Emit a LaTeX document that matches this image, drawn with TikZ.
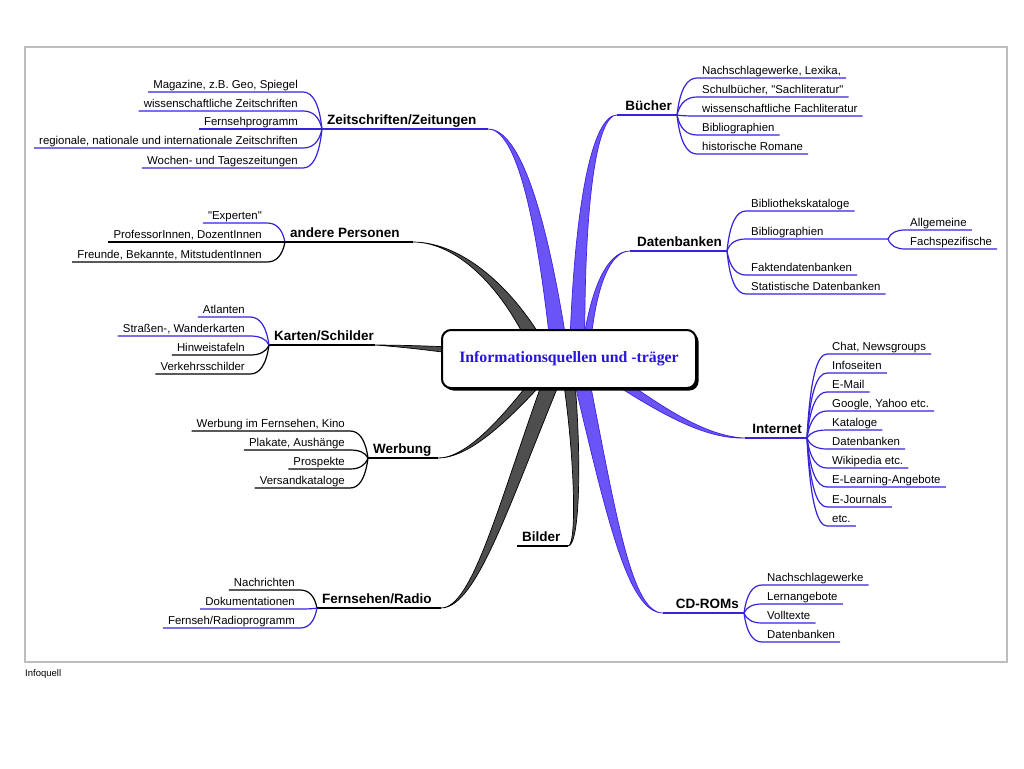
\documentclass[tikz,border=0pt]{standalone}
\usepackage{fontspec}
\setmainfont{Liberation Sans}[Ligatures=TeXOff]
\newfontfamily\serifbold{Liberation Serif}
\usetikzlibrary{calc,shadows}
\definecolor{mmblue}{RGB}{92,66,245}
\definecolor{mmedge}{RGB}{60,35,225}
\definecolor{mmline}{RGB}{55,35,220}
\definecolor{mmgray}{RGB}{78,78,78}
\definecolor{mmtext}{RGB}{40,20,225}
\definecolor{mmframe}{RGB}{190,190,190}
\newcommand{\mmband}[6]{%
  \filldraw[#1] ($(#2)+(#6)$) .. controls ($(#3)+0.6*(#6)$) and ($(#4)+0.25*(#6)$) .. (#5)
    .. controls ($(#4)-0.25*(#6)$) and ($(#3)-0.6*(#6)$) .. ($(#2)-(#6)$) -- cycle;}
\begin{document}
\begin{tikzpicture}[x=1pt,y=-1pt,
  leaf/.style={font=\fontsize{11.4}{13}\selectfont, inner xsep=5pt, inner ysep=1pt, text height=8.3pt, text depth=2.4pt},
  lab/.style={font=\fontsize{13.5}{15}\selectfont\bfseries, inner xsep=5pt, inner ysep=1.2pt, text height=9.9pt, text depth=2.8pt},
  bl/.style={draw=mmline, line width=1.2pt},
  kl/.style={draw=black, line width=1.2pt},
  blab/.style={draw=mmline, line width=1.6pt},
  klab/.style={draw=black, line width=1.6pt},
  blueband/.style={fill=mmblue, fill opacity=0.9, draw=mmedge, line width=0.7pt, line join=round},
  grayband/.style={fill=mmgray, draw=black, line width=0.7pt, line join=round},
  fan/.style={to path={let \p1=(\tikztostart), \p2=(\tikztotarget) in
     .. controls (0.85*\x1+0.15*\x2, 0.3*\y1+0.7*\y2) and (0.5*\x1+0.5*\x2, \y2) .. (\tikztotarget) \tikztonodes}}
]
\useasboundingbox (0,0) rectangle (1024,768);
\fill[white] (0,0) rectangle (1024,768);
\draw[mmframe, line width=1.4pt] (25,47) rectangle (1007,662);
\node[anchor=west, inner sep=0pt, font=\fontsize{9.5}{11}\selectfont] (foot) at (25,674) {Infoquell};

% ---------- coordinates of branches
\coordinate (Jz) at (322,129); \coordinate (zT) at (488,129); \coordinate (zC1) at (518,129); \coordinate (zC2) at (543,215); \coordinate (zA) at (562,372);
\coordinate (Jb) at (677,115); \coordinate (bT) at (617,115); \coordinate (bC1) at (595,115); \coordinate (bC2) at (578,200); \coordinate (bA) at (577,372);
\coordinate (Jd) at (727,251); \coordinate (dT) at (630,251); \coordinate (dC1) at (608,251); \coordinate (dC2) at (590,290); \coordinate (dA) at (584,372);
\coordinate (Jp) at (285,242); \coordinate (pT) at (413,242); \coordinate (pC1) at (460,242); \coordinate (pC2) at (515,290); \coordinate (pA) at (550,372);
\coordinate (Jk) at (269,345); \coordinate (kT) at (375,345); \coordinate (kC1) at (400,346); \coordinate (kC2) at (430,348); \coordinate (kA) at (460,351);
\coordinate (Jw) at (368,458); \coordinate (wT) at (438,458); \coordinate (wC1) at (468,458); \coordinate (wC2) at (505,420); \coordinate (wA) at (545,372);
\coordinate (Jf) at (317,608); \coordinate (fT) at (441,608); \coordinate (fC1) at (475,608); \coordinate (fC2) at (505,500); \coordinate (fA) at (555,372);
\coordinate (iT) at (568,546); \coordinate (iC1) at (579,546); \coordinate (iC2) at (578,450); \coordinate (iA) at (568,372);
\coordinate (Jc) at (744,613); \coordinate (cT) at (663,613); \coordinate (cC1) at (630,613); \coordinate (cC2) at (612,520); \coordinate (cA) at (580,372);
\coordinate (Ji) at (807,438); \coordinate (nT) at (745,438); \coordinate (nC1) at (705,438); \coordinate (nC2) at (660,410); \coordinate (nA) at (605,372);

% ---------- tapered main branches
\mmband{grayband}{pA}{pC2}{pC1}{pT}{10,0}
\mmband{grayband}{kA}{kC2}{kC1}{kT}{0,3.5}
\mmband{grayband}{wA}{wC2}{wC1}{wT}{7.5,0}
\mmband{grayband}{fA}{fC2}{fC1}{fT}{9,0}
\mmband{grayband}{iA}{iC2}{iC1}{iT}{6,0}
\mmband{blueband}{zA}{zC2}{zC1}{zT}{9,0}
\mmband{blueband}{bA}{bC2}{bC1}{bT}{8,0}
\mmband{blueband}{dA}{dC2}{dC1}{dT}{4.5,0}
\mmband{blueband}{cA}{cC2}{cC1}{cT}{8,0}
\mmband{blueband}{nA}{nC2}{nC1}{nT}{0,6}

% ---------- central topic
\node[draw=black, line width=2pt, rounded corners=9pt, fill=white, minimum width=254pt, minimum height=58pt, inner sep=0pt,
  drop shadow={shadow xshift=2.5pt, shadow yshift=-2.5pt, fill=black, opacity=1},
  font=\serifbold\bfseries\fontsize{15.8}{18}\selectfont, text=mmtext] (center) at (569,359) {Informationsquellen und -träger};

% ---------- Zeitschriften/Zeitungen
\node[lab, anchor=south west] (zeit) at (Jz) {Zeitschriften/Zeitungen};
\draw[blab] (zeit.south west) -- (zT);
\node[leaf, anchor=south east] (z1) at (303,92) {Magazine, z.B. Geo, Spiegel};
\node[leaf, anchor=south east] (z2) at (303,111) {wissenschaftliche Zeitschriften};
\node[leaf, anchor=south east] (z3) at (303,129) {Fernsehprogramm};
\node[leaf, anchor=south east] (z4) at (303,148) {regionale, nationale und internationale Zeitschriften};
\node[leaf, anchor=south east] (z5) at (303,168) {Wochen- und Tageszeitungen};
\foreach \q in {z1,z2,z3,z4,z5} \draw[bl] (Jz) to[fan] (\q.south east) -- (\q.south west);

% ---------- andere Personen
\node[lab, anchor=south west] (pers) at (Jp) {andere Personen};
\draw[klab] (pers.south west) -- (pT);
\node[leaf, anchor=south east] (p1) at (267,223) {"Experten"};
\node[leaf, anchor=south east] (p2) at (267,242) {ProfessorInnen, DozentInnen};
\node[leaf, anchor=south east] (p3) at (267,262) {Freunde, Bekannte, MitstudentInnen};
\draw[bl] (Jp) to[fan] (p1.south east) -- (p1.south west);
\draw[kl] (Jp) to[fan] (p2.south east) -- (p2.south west);
\draw[kl] (Jp) to[fan] (p3.south east) -- (p3.south west);

% ---------- Karten/Schilder
\node[lab, anchor=south west] (kart) at (Jk) {Karten/Schilder};
\draw[klab] (kart.south west) -- (kT);
\node[leaf, anchor=south east] (k1) at (250,317) {Atlanten};
\node[leaf, anchor=south east] (k2) at (250,336) {Straßen-, Wanderkarten};
\node[leaf, anchor=south east] (k3) at (250,355) {Hinweistafeln};
\node[leaf, anchor=south east] (k4) at (250,374) {Verkehrsschilder};
\draw[bl] (Jk) to[fan] (k1.south east) -- (k1.south west);
\draw[bl] (Jk) to[fan] (k2.south east) -- (k2.south west);
\draw[kl] (Jk) to[fan] (k3.south east) -- (k3.south west);
\draw[kl] (Jk) to[fan] (k4.south east) -- (k4.south west);

% ---------- Werbung
\node[lab, anchor=south west] (werb) at (Jw) {Werbung};
\draw[klab] (werb.south west) -- (wT);
\node[leaf, anchor=south east] (w1) at (350,431) {Werbung im Fernsehen, Kino};
\node[leaf, anchor=south east] (w2) at (350,450) {Plakate, Aushänge};
\node[leaf, anchor=south east] (w3) at (350,469) {Prospekte};
\node[leaf, anchor=south east] (w4) at (350,488) {Versandkataloge};
\foreach \q in {w1,w2,w3,w4} \draw[kl] (Jw) to[fan] (\q.south east) -- (\q.south west);

% ---------- Bilder
\node[lab, anchor=south west] (bild) at (517,546) {Bilder};
\draw[klab] (bild.south west) -- (iT);

% ---------- Fernsehen/Radio
\node[lab, anchor=south west] (fern) at (Jf) {Fernsehen/Radio};
\draw[klab] (fern.south west) -- (fT);
\node[leaf, anchor=south east] (f1) at (300,590) {Nachrichten};
\node[leaf, anchor=south east] (f2) at (300,609) {Dokumentationen};
\node[leaf, anchor=south east] (f3) at (300,628) {Fernseh/Radioprogramm};
\draw[kl] (Jf) to[fan] (f1.south east) -- (f1.south west);
\draw[bl] (Jf) to[fan] (f2.south east) -- (f2.south west);
\draw[bl] (Jf) to[fan] (f3.south east) -- (f3.south west);

% ---------- Bücher
\node[lab, anchor=south east] (buch) at (Jb) {Bücher};
\draw[blab] (buch.south east) -- (bT);
\node[leaf, anchor=south west] (b1) at (697,78) {Nachschlagewerke, Lexika,};
\node[leaf, anchor=south west] (b2) at (697,97) {Schulbücher, "Sachliteratur"};
\node[leaf, anchor=south west] (b3) at (697,116) {wissenschaftliche Fachliteratur};
\node[leaf, anchor=south west] (b4) at (697,135) {Bibliographien};
\node[leaf, anchor=south west] (b5) at (697,154) {historische Romane};
\foreach \q in {b1,b2,b3,b4,b5} \draw[bl] (Jb) to[fan] (\q.south west) -- (\q.south east);

% ---------- Datenbanken
\node[lab, anchor=south east] (datb) at (Jd) {Datenbanken};
\draw[blab] (datb.south east) -- (dT);
\node[leaf, anchor=south west] (d1) at (746,211) {Bibliothekskataloge};
\node[leaf, anchor=south west] (d2) at (746,239) {Bibliographien};
\node[leaf, anchor=south west] (d3) at (746,275) {Faktendatenbanken};
\node[leaf, anchor=south west] (d4) at (746,294) {Statistische Datenbanken};
\foreach \q in {d1,d3,d4} \draw[bl] (Jd) to[fan] (\q.south west) -- (\q.south east);
\coordinate (Jbib) at (888,239);
\draw[bl] (Jd) to[fan] (d2.south west) -- (Jbib);
\node[leaf, anchor=south west] (d21) at (905,230) {Allgemeine};
\node[leaf, anchor=south west] (d22) at (905,249) {Fachspezifische};
\foreach \q in {d21,d22} \draw[bl] (Jbib) to[fan] (\q.south west) -- (\q.south east);

% ---------- Internet
\node[lab, anchor=south east] (inet) at (Ji) {Internet};
\draw[blab] (inet.south east) -- (nT);
\node[leaf, anchor=south west] (i1) at (827,354) {Chat, Newsgroups};
\node[leaf, anchor=south west] (i2) at (827,373) {Infoseiten};
\node[leaf, anchor=south west] (i3) at (827,392) {E-Mail};
\node[leaf, anchor=south west] (i4) at (827,411) {Google, Yahoo etc.};
\node[leaf, anchor=south west] (i5) at (827,430) {Kataloge};
\node[leaf, anchor=south west] (i6) at (827,449) {Datenbanken};
\node[leaf, anchor=south west] (i7) at (827,468) {Wikipedia etc.};
\node[leaf, anchor=south west] (i8) at (827,487) {E-Learning-Angebote};
\node[leaf, anchor=south west] (i9) at (827,507) {E-Journals};
\node[leaf, anchor=south west] (i10) at (827,526) {etc.};
\foreach \q in {i1,i2,i3,i4,i5,i6,i7,i8,i9,i10} \draw[bl] (Ji) to[fan] (\q.south west) -- (\q.south east);

% ---------- CD-ROMs
\node[lab, anchor=south east] (cdro) at (Jc) {CD-ROMs};
\draw[blab] (cdro.south east) -- (cT);
\node[leaf, anchor=south west] (c1) at (762,585) {Nachschlagewerke};
\node[leaf, anchor=south west] (c2) at (762,604) {Lernangebote};
\node[leaf, anchor=south west] (c3) at (762,623) {Volltexte};
\node[leaf, anchor=south west] (c4) at (762,642) {Datenbanken};
\foreach \q in {c1,c2,c3,c4} \draw[bl] (Jc) to[fan] (\q.south west) -- (\q.south east);
\end{tikzpicture}
\end{document}
